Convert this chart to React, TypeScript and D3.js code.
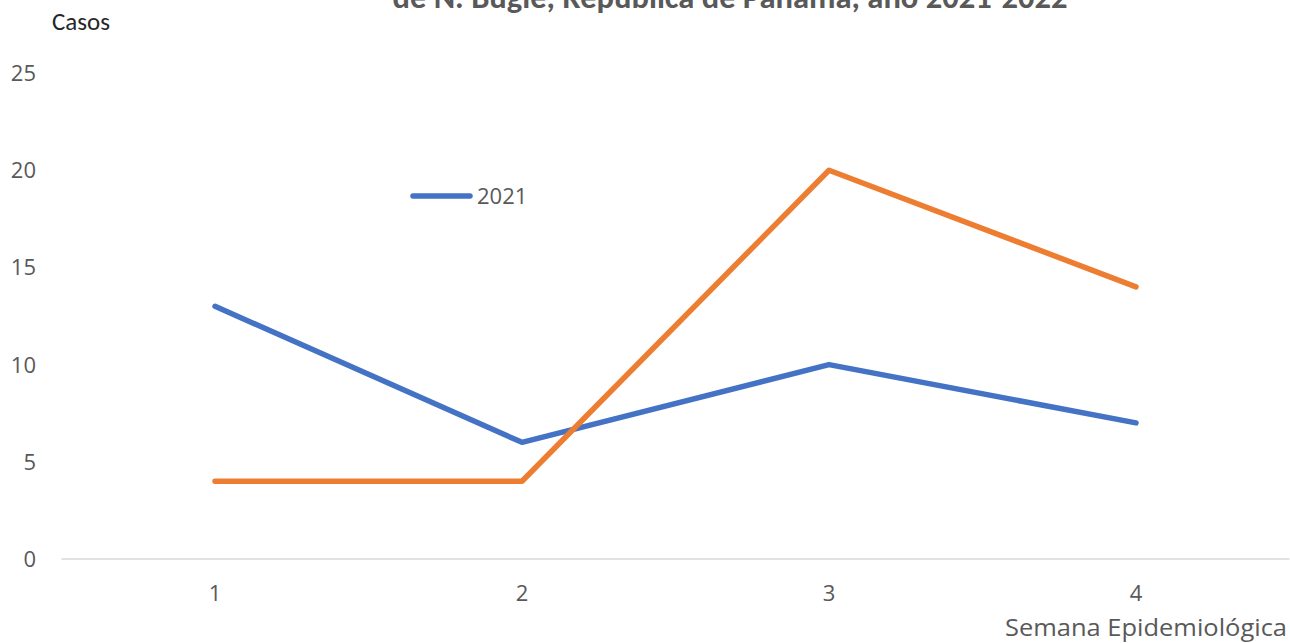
import React from "react";
import * as d3 from "d3";

const weeks = ["1", "2", "3", "4"];
const cases2021 = [13, 6, 10, 7];
const cases2022 = [4, 4, 20, 14];
const yTicks = [0, 5, 10, 15, 20, 25];
const titleText = "de N. Bugle, República de Panamá, año 2021-2022";
const yLabel = "Casos";
const xLabel = "Semana Epidemiológica";
const legendLabel = "2021";

export default function App() {
  const W = 1290, H = 643;
  const x = d3.scaleBand<string>().domain(weeks).range([61.5, 1289.5]);
  const y = d3.scaleLinear().domain([0, 25]).range([559, 73]);
  const cx = (w: string) => (x(w) ?? 0) + x.bandwidth() / 2;
  const line = d3.line<number>().x((_, i) => cx(weeks[i])).y((v) => y(v));
  const narrow = "Carlito, Lato, sans-serif";
  const font = "'Open Sans', 'Noto Sans', sans-serif";
  const grey = "#595959";
  return (
    <svg width={W} height={H} style={{ position: "absolute", left: 0, top: 0, background: "#fff" }} fontFamily={font}>
      <text x={730} y={8} textAnchor="middle" fontSize={32} fontWeight="bold" fill={grey} fontFamily={narrow} textLength={675} lengthAdjust="spacingAndGlyphs">{titleText}</text>
      <text x={52} y={30} fontSize={25} fill="#262626" fontFamily={narrow}>{yLabel}</text>
      {yTicks.map((t) => (
        <text key={t} x={36} y={y(t) + 8} textAnchor="end" fontSize={22} fill={grey}>{t}</text>
      ))}
      <line x1={61.5} x2={1289.5} y1={y(0)} y2={y(0)} stroke="#d9d9d9" strokeWidth={1.5} />
      {weeks.map((w) => (
        <text key={w} x={cx(w)} y={601} textAnchor="middle" fontSize={22} fill={grey}>{w}</text>
      ))}
      <text x={1287} y={636} textAnchor="end" fontSize={24.5} fill={grey} textLength={282} lengthAdjust="spacingAndGlyphs">{xLabel}</text>
      <path d={line(cases2021) ?? ""} fill="none" stroke="#4472C4" strokeWidth={5.5} strokeLinejoin="round" strokeLinecap="round" />
      <path d={line(cases2022) ?? ""} fill="none" stroke="#ED7D31" strokeWidth={5.5} strokeLinejoin="round" strokeLinecap="round" />
      <line x1={413} x2={470} y1={196} y2={196} stroke="#4472C4" strokeWidth={5.5} strokeLinecap="round" />
      <text x={477} y={204} fontSize={22} fill={grey}>{legendLabel}</text>
    </svg>
  );
}
